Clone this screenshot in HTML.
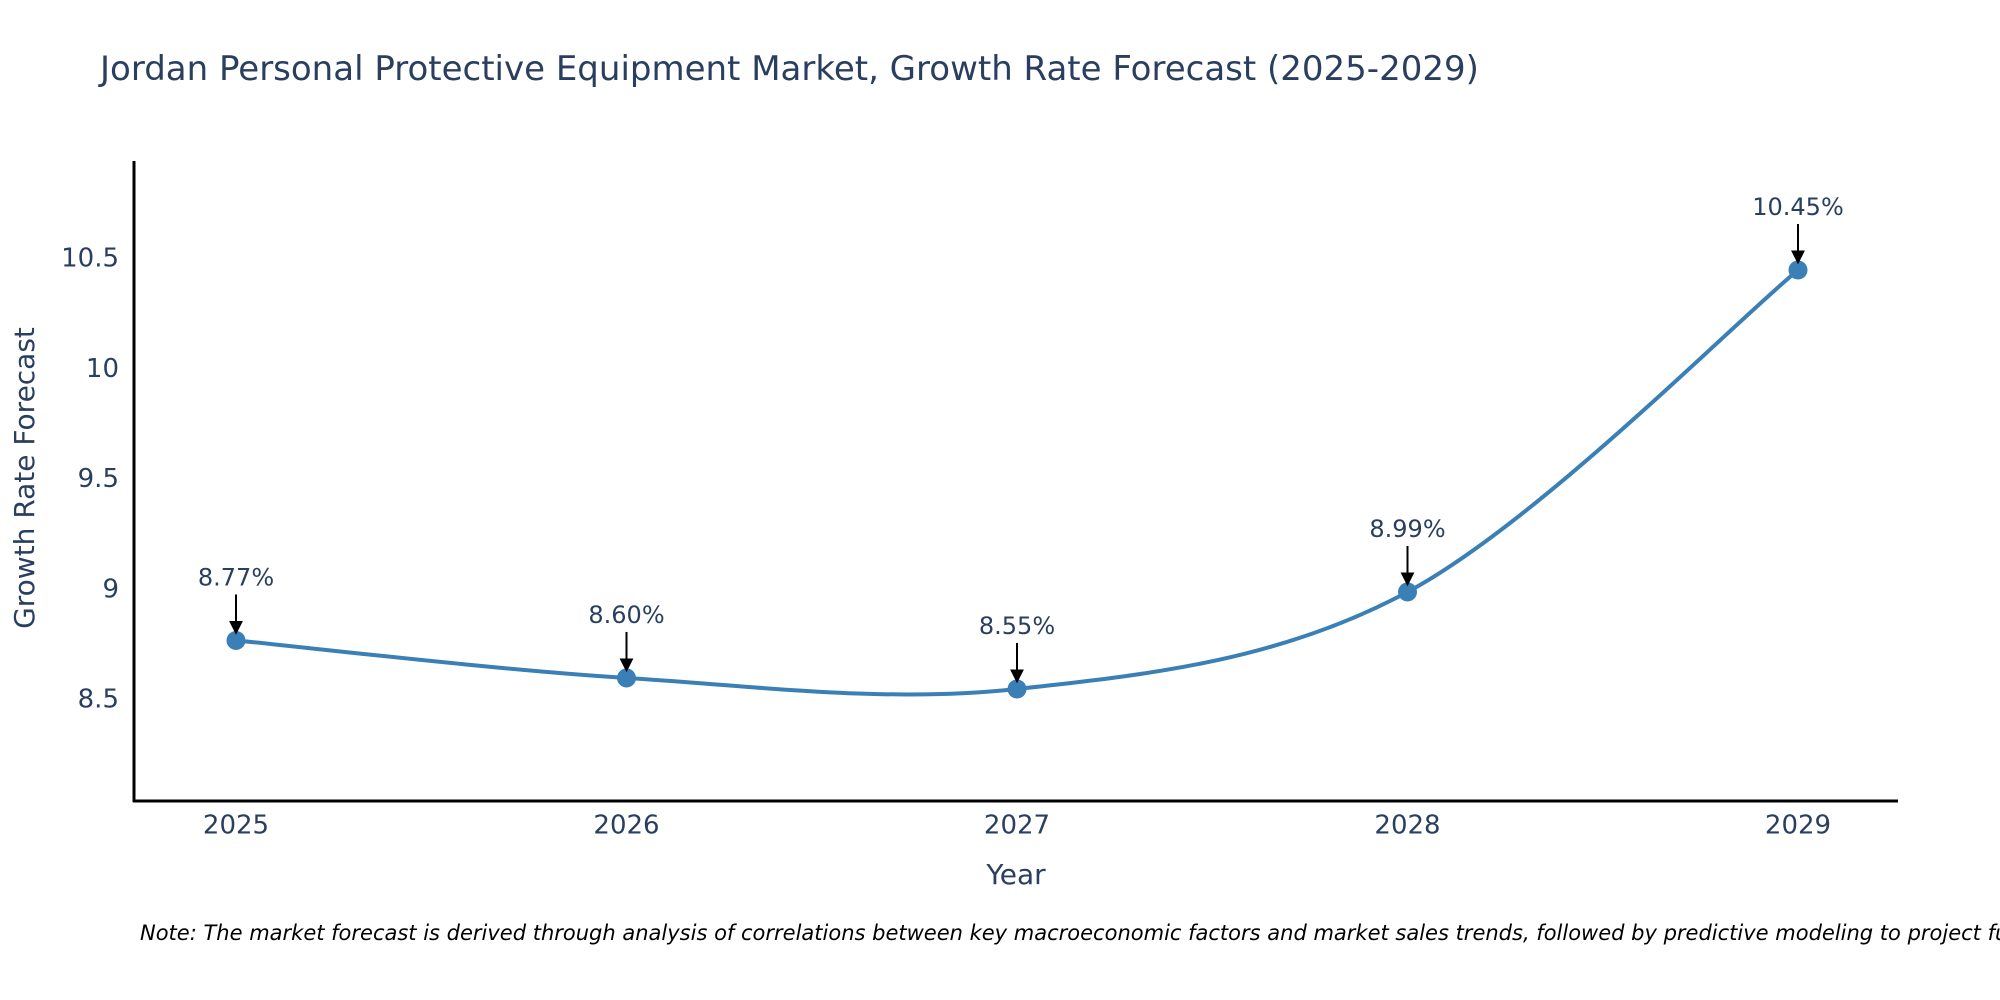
<!DOCTYPE html>
<html><head><meta charset="utf-8"><style>
html,body{margin:0;padding:0;background:#fff;}
svg{display:block;font-family:"DejaVu Sans","Liberation Sans",sans-serif;}
</style></head><body>
<svg id="chart" width="2000" height="1000" viewBox="0 0 2000 1000">
<rect width="2000" height="1000" fill="#fff"/>
<text x="100" y="80" font-size="34" fill="#2a3f5f">Jordan Personal Protective Equipment Market, Growth Rate Forecast (2025-2029)</text>
<g id="yticks"></g>
<g id="xticks"></g>
<line x1="134" y1="161" x2="134" y2="802" stroke="#000" stroke-width="3"/>
<line x1="133" y1="801" x2="1898" y2="801" stroke="#000" stroke-width="3"/>
<path id="line" fill="none" stroke="#3a7fb5" stroke-width="4"/>
<g id="points"></g>
<g id="annots"></g>
<text x="1016" y="876" font-size="28" fill="#2a3f5f" text-anchor="middle" dominant-baseline="middle">Year</text>
<text x="26" y="478" font-size="28" fill="#2a3f5f" text-anchor="middle" dominant-baseline="middle" transform="rotate(-90 26 478)">Growth Rate Forecast</text>
<text x="140" y="940" font-size="21" font-style="italic" fill="#000">Note: The market forecast is derived through analysis of correlations between key macroeconomic factors and market sales trends, followed by predictive modeling to project future sales.</text>
<defs><marker id="ah" markerWidth="14" markerHeight="14" refX="10" refY="6" orient="auto" markerUnits="userSpaceOnUse" viewBox="0 0 12 12"><path d="M0,0 L12,6 L0,12 Z" fill="#000"/></marker></defs>
</svg>
<script>
const categories = ["2025","2026","2027","2028","2029"];
const values = [8.77, 8.60, 8.55, 8.99, 10.45];
const labels = ["8.77%","8.60%","8.55%","8.99%","10.45%"];
const yTicks = [8.5, 9, 9.5, 10, 10.5];
const yTickLabels = ["8.5","9","9.5","10","10.5"];

const NS = "http://www.w3.org/2000/svg";
function xPos(i){ return 236 + i*(1798-236)/(categories.length-1); }
function yPos(v){ return 700 - (v-8.5)*220.5; }
function mk(tag, attrs, parent){ const e=document.createElementNS(NS,tag); for(const k in attrs) e.setAttribute(k,attrs[k]); parent.appendChild(e); return e; }

const yt=document.getElementById('yticks');
yTicks.forEach((v,i)=>{
  const t=mk('text',{x:119,y:yPos(v),'font-size':26,fill:'#2a3f5f','text-anchor':'end','dominant-baseline':'middle'},yt);
  
  
  t.textContent=yTickLabels[i];
});
const xt=document.getElementById('xticks');
categories.forEach((c,i)=>{
  const t=mk('text',{x:xPos(i),y:826,'font-size':26,fill:'#2a3f5f','text-anchor':'middle','dominant-baseline':'middle'},xt);
  
  
  t.textContent=c;
});
const pts=values.map((v,i)=>[xPos(i),yPos(v)]);
let d=`M${pts[0][0]},${pts[0][1]}`;
for(let i=0;i<pts.length-1;i++){
  const p0=pts[Math.max(0,i-1)],p1=pts[i],p2=pts[i+1],p3=pts[Math.min(pts.length-1,i+2)];
  const c1=[p1[0]+(p2[0]-p0[0])/6,p1[1]+(p2[1]-p0[1])/6];
  const c2=[p2[0]-(p3[0]-p1[0])/6,p2[1]-(p3[1]-p1[1])/6];
  d+=` C${c1[0]},${c1[1]} ${c2[0]},${c2[1]} ${p2[0]},${p2[1]}`;
}
document.getElementById('line').setAttribute('d',d);
const pg=document.getElementById('points'), ag=document.getElementById('annots');
pts.forEach((p,i)=>{
  const c=mk('circle',{cx:p[0],cy:p[1],r:9.5,fill:'#3a7fb5'},pg);
  
  
  const a=mk('line',{x1:p[0],y1:p[1]-46,x2:p[0],y2:p[1]-8,stroke:'#000','stroke-width':2,'marker-end':'url(#ah)'},ag);
  
  
  const t=mk('text',{x:p[0],y:p[1]-55,'font-size':24,fill:'#2a3f5f','text-anchor':'middle'},ag);
  
  
  t.textContent=labels[i];
});
</script>
</body></html>
